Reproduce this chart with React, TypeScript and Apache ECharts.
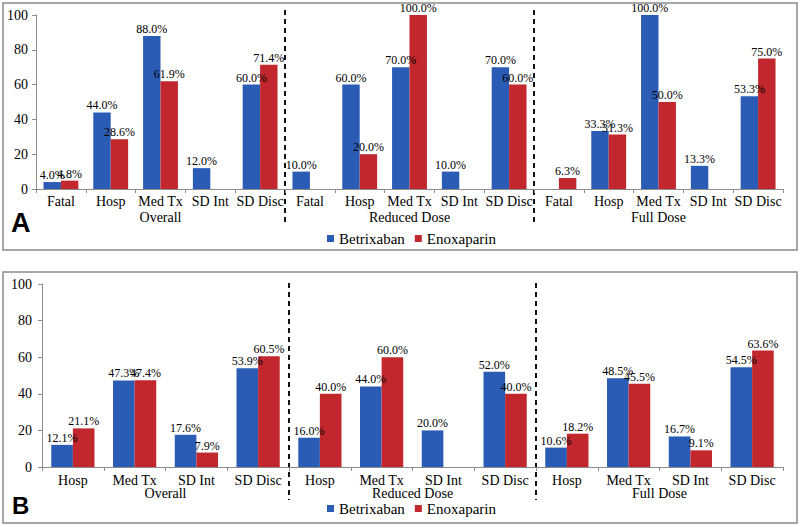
import React, { useEffect, useRef } from 'react';
import * as echarts from 'echarts';

const groupsA = ['Overall', 'Reduced Dose', 'Full Dose'];
const outcomesA = ['Fatal', 'Hosp', 'Med Tx', 'SD Int', 'SD Disc'];
const betrixabanA = [4.0, 44.0, 88.0, 12.0, 60.0, 10.0, 60.0, 70.0, 10.0, 70.0, null, 33.3, 100.0, 13.3, 53.3];
const enoxaparinA = [4.8, 28.6, 61.9, null, 71.4, null, 20.0, 100.0, null, 60.0, 6.3, 31.3, 50.0, null, 75.0];

const groupsB = ['Overall', 'Reduced Dose', 'Full Dose'];
const outcomesB = ['Hosp', 'Med Tx', 'SD Int', 'SD Disc'];
const betrixabanB = [12.1, 47.3, 17.6, 53.9, 16.0, 44.0, 20.0, 52.0, 10.6, 48.5, 16.7, 54.5];
const enoxaparinB = [21.1, 47.4, 7.9, 60.5, 40.0, 60.0, null, 40.0, 18.2, 45.5, 9.1, 63.6];

const seriesNames = ['Betrixaban', 'Enoxaparin'];
const panelLetters = ['A', 'B'];
const yMin = 0;
const yMax = 100;
const yStep = 20;

const BLUE = '#2b5cb5';
const RED = '#c1272d';
const AXIS = '#8c8c8c';
const SERIF = 'Liberation Serif';

const catsA = groupsA.flatMap(() => outcomesA);
const catsB = groupsB.flatMap(() => outcomesB);

const gridA = { left: 36, top: 15, width: 747, height: 174 };
const gridB = { left: 42, top: 284, width: 741, height: 183 };

function catAxis(gridIndex: number, data: string[], margin: number) {
  return {
    type: 'category',
    gridIndex,
    data,
    position: 'bottom',
    axisLine: { show: true, lineStyle: { color: AXIS, width: 1 } },
    axisTick: { show: true, interval: 0, length: 4, lineStyle: { color: AXIS } },
    axisLabel: { interval: 0, margin, color: '#000', fontFamily: SERIF, fontSize: 14 },
    splitLine: { show: false },
  };
}

function groupAxis(gridIndex: number, data: string[], offset: number) {
  return {
    type: 'category',
    gridIndex,
    data,
    position: 'bottom',
    offset,
    axisLine: { show: false },
    axisTick: { show: false },
    axisLabel: { interval: 0, margin: 5, color: '#000', fontFamily: SERIF, fontSize: 14 },
    splitLine: { show: false },
  };
}

function valAxis(gridIndex: number, margin: number, fontSize: number) {
  return {
    type: 'value',
    gridIndex,
    min: yMin,
    max: yMax,
    interval: yStep,
    axisLine: { show: true, lineStyle: { color: AXIS, width: 1 } },
    axisTick: { show: true, length: 4, lineStyle: { color: AXIS } },
    axisLabel: { margin, color: '#000', fontFamily: SERIF, fontSize },
    splitLine: { show: false },
  };
}

function barSeries(name: string, data: (number | null)[], xAxisIndex: number, yAxisIndex: number, color: string) {
  return {
    type: 'bar',
    name,
    data,
    xAxisIndex,
    yAxisIndex,
    barWidth: '35%',
    barGap: '0%',
    itemStyle: { color },
    label: {
      show: true,
      position: 'top',
      distance: 1,
      color: '#000',
      fontFamily: SERIF,
      fontSize: 12,
      formatter: (p: any) => (p.value == null ? '' : Number(p.value).toFixed(1) + '%'),
    },
  };
}

function legendAt(top: number) {
  return {
    data: seriesNames,
    left: 327,
    top,
    padding: 0,
    icon: 'rect',
    itemWidth: 7,
    itemHeight: 7,
    itemGap: 10,
    selectedMode: false,
    textStyle: { color: '#000', fontFamily: SERIF, fontSize: 15 },
  };
}

function boundaryX(grid: { left: number; width: number }, total: number, i: number) {
  return grid.left + (grid.width * i) / total;
}

function dashed(x: number, y1: number, y2: number) {
  return {
    type: 'line',
    shape: { x1: x, y1, x2: x, y2 },
    style: { stroke: '#111', lineWidth: 2, lineDash: [5, 4] },
    silent: true,
  };
}

export default function App() {
  const ref = useRef<HTMLDivElement>(null);
  useEffect(() => {
    if (!ref.current) return;
    const chart = echarts.init(ref.current, null, { renderer: 'svg' });
    const nA = outcomesA.length;
    const nB = outcomesB.length;
    const yA1 = gridA.top - 5;
    const yA2 = gridA.top + gridA.height + 34;
    const yB1 = gridB.top - 1;
    const yB2 = gridB.top + gridB.height + 33;

    chart.setOption({
      animation: false,
      backgroundColor: '#fff',
      grid: [gridA, gridB],
      xAxis: [
        catAxis(0, catsA, 5),
        groupAxis(0, groupsA, 16),
        catAxis(1, catsB, 6),
        groupAxis(1, groupsB, 14),
      ],
      yAxis: [valAxis(0, 8, 14), valAxis(1, 10, 14)],
      legend: [legendAt(231), legendAt(501)],
      series: [
        barSeries(seriesNames[0], betrixabanA, 0, 0, BLUE),
        barSeries(seriesNames[1], enoxaparinA, 0, 0, RED),
        barSeries(seriesNames[0], betrixabanB, 2, 1, BLUE),
        barSeries(seriesNames[1], enoxaparinB, 2, 1, RED),
      ],
      graphic: [
        {
          type: 'rect',
          shape: { x: 3, y: 3, width: 794, height: 247 },
          style: { fill: 'none', stroke: '#8a8a8a', lineWidth: 1.5 },
          silent: true,
        },
        {
          type: 'rect',
          shape: { x: 3, y: 272, width: 794, height: 251 },
          style: { fill: 'none', stroke: '#8a8a8a', lineWidth: 1.5 },
          silent: true,
        },
        dashed(boundaryX(gridA, catsA.length, nA), yA1, yA2),
        dashed(boundaryX(gridA, catsA.length, 2 * nA), yA1, yA2),
        dashed(boundaryX(gridB, catsB.length, nB), yB1, yB2),
        dashed(boundaryX(gridB, catsB.length, 2 * nB), yB1, yB2),
        {
          type: 'text',
          x: 11,
          y: 223,
          style: {
            text: panelLetters[0],
            fontFamily: 'Liberation Sans',
            fontWeight: 'bold',
            fontSize: 27,
            fill: '#000',
            verticalAlign: 'middle',
          },
        },
        {
          type: 'text',
          x: 12,
          y: 505,
          style: {
            text: panelLetters[1],
            fontFamily: 'Liberation Sans',
            fontWeight: 'bold',
            fontSize: 24,
            fill: '#000',
            verticalAlign: 'middle',
          },
        },
      ],
    });
    return () => chart.dispose();
  }, []);
  return (
    <div
      ref={ref}
      style={{ position: 'fixed', left: 0, top: 0, width: 800, height: 527, background: '#fff' }}
    />
  );
}
